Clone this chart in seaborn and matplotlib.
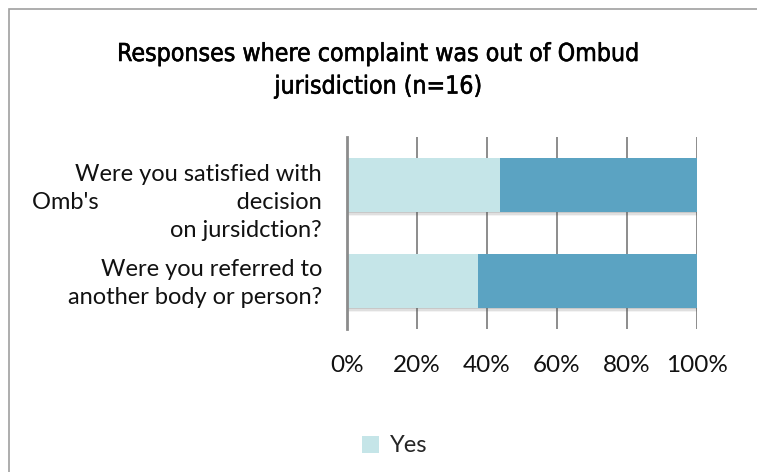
import matplotlib
matplotlib.use("Agg")
import matplotlib.pyplot as plt
import matplotlib.transforms as mtransforms
import matplotlib.patheffects as pe
from matplotlib.patches import Rectangle, Patch
import seaborn as sns
import pandas as pd

# Survey responses (n=16), shares in percent
questions = [
    "Were you satisfied with\nOmb's                       decision\non jursidction?",
    "Were you referred to\nanother body or person?",
]
yes_pct = [43.75, 37.5]
no_pct = [56.25, 62.5]
x_ticks = [0, 20, 40, 60, 80, 100]
x_tick_labels = ["0%", "20%", "40%", "60%", "80%", "100%"]

YES_COLOR = "#C5E5E8"
NO_COLOR = "#5BA3C2"
GRID_COLOR = "#8C8C8C"

sns.set_style("white")
plt.rcParams["font.family"] = ["Lato", "DejaVu Sans"]

df = pd.DataFrame({
    "question": questions,
    "yes": yes_pct,
    "total": [y + n for y, n in zip(yes_pct, no_pct)],
})

fig = plt.figure(figsize=(7.57, 4.72), dpi=100)
ax = fig.add_axes([347 / 757, 1 - 329 / 472, 350 / 757, 192 / 472])

# Soft drop shadow under each full bar
shadow = [
    pe.SimplePatchShadow(offset=(0.3, -0.8), shadow_rgbFace="#555555", alpha=0.16),
    pe.SimplePatchShadow(offset=(0.5, -1.6), shadow_rgbFace="#555555", alpha=0.12),
    pe.SimplePatchShadow(offset=(0.7, -2.4), shadow_rgbFace="#555555", alpha=0.07),
    pe.Normal(),
]

# Stacked horizontal bars: full length in the "No" colour, "Yes" share on top
sns.barplot(data=df, x="total", y="question", color=NO_COLOR, width=0.57,
            saturation=1, ax=ax, zorder=3)
sns.barplot(data=df, x="yes", y="question", color=YES_COLOR, width=0.57,
            saturation=1, ax=ax, zorder=4)
for i, p in enumerate(ax.patches):
    p.set_linewidth(0)
    if i < len(questions):
        p.set_path_effects(shadow)

ax.set_xlim(0, 100)
ax.set_ylim(1.5, -0.5)
ax.set_xticks(x_ticks)
ax.set_xticklabels(x_tick_labels, fontsize=17.5, color="#111111")
ax.tick_params(axis="x", length=0, pad=19)
ax.tick_params(axis="y", length=0, pad=18, labelsize=17, labelcolor="#111111")
ax.set_xlabel("")
ax.set_ylabel("")

ax.xaxis.grid(True, color=GRID_COLOR, linewidth=1.4, zorder=0)
ax.set_axisbelow(True)
for side in ["top", "right", "bottom"]:
    ax.spines[side].set_visible(False)
ax.spines["left"].set_color("#8C8C8C")
ax.spines["left"].set_linewidth(2.0)
ax.spines["left"].set_zorder(5)

# Category labels: looser line spacing; the three-line one sits lower than its bar
label_shift_px = [-12, 3]
for lbl, dy in zip(ax.get_yticklabels(), label_shift_px):
    lbl.set_linespacing(1.4)
    lbl.set_transform(lbl.get_transform() + mtransforms.ScaledTranslation(0, dy / 100, fig.dpi_scale_trans))

title = fig.suptitle("Responses where complaint was out of Ombud\njurisdiction (n=16)",
                     x=0.5, y=1 - 42 / 472, fontsize=17.8, color="black",
                     family="DejaVu Sans", stretch="condensed", linespacing=1.45)
title.set_path_effects([pe.withStroke(linewidth=0.4, foreground="black")])

fig.legend(handles=[Patch(facecolor=YES_COLOR, edgecolor="none", label="Yes")],
           loc="center", bbox_to_anchor=(395 / 757, 1 - 446 / 472),
           frameon=False, fontsize=17, handlelength=0.72, handleheight=0.72,
           handletextpad=0.45)

# Chart frame
fig.patches.append(Rectangle((9 / 757, -0.1), 1.2, 1 - 9 / 472 + 0.1,
                             transform=fig.transFigure, fill=False,
                             edgecolor="#A0A0A0", linewidth=1.2))

fig.savefig("out.png", dpi=100)
